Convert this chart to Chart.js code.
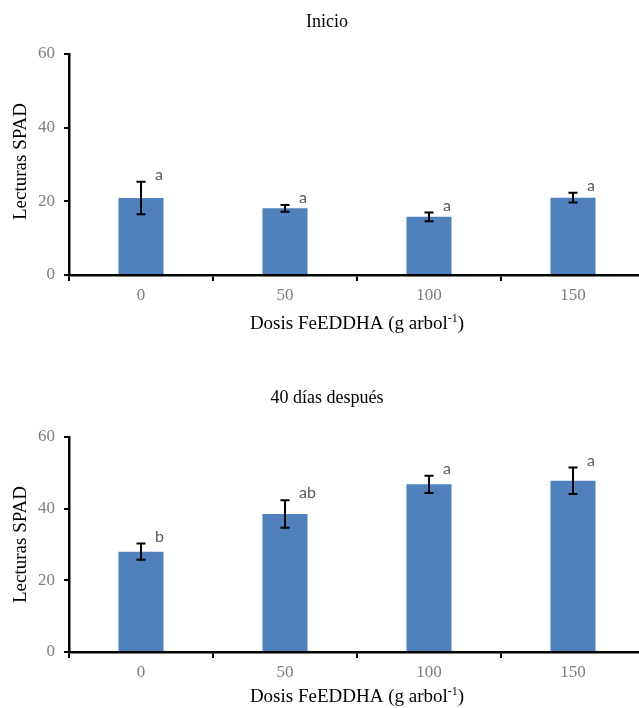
<!DOCTYPE html>
<html>
<head>
<meta charset="utf-8">
<script src="https://cdn.jsdelivr.net/npm/chart.js@4/dist/chart.umd.min.js"></script>
<style>
  html, body { margin: 0; padding: 0; background: #fff; overflow: hidden; }
  #wrap { position: relative; width: 639px; height: 708px; overflow: hidden; }
  canvas { position: absolute; left: 0; }
</style>
</head>
<body>
<div id="wrap">
  <canvas id="c1" width="645" height="354" style="top:0"></canvas>
  <canvas id="c2" width="645" height="354" style="top:354px"></canvas>
</div>
<script>
const categories = ['0', '50', '100', '150'];
const yTicks = [0, 20, 40, 60];

const inicioTitle = 'Inicio';
const inicioValues = [20.9, 18.1, 15.8, 21.0];
const inicioErrors = [4.4, 0.9, 1.2, 1.3];
const inicioLetters = ['a', 'a', 'a', 'a'];

const despuesTitle = '40 días después';
const despuesValues = [28.0, 38.5, 46.8, 47.8];
const despuesErrors = [2.25, 3.85, 2.4, 3.7];
const despuesLetters = ['b', 'ab', 'a', 'a'];

const yTitle = 'Lecturas SPAD';
const xTitleMain = 'Dosis FeEDDHA (g arbol';
const xTitleSup = '-1';
const xTitleEnd = ')';

const SERIF = '"Liberation Serif", "Times New Roman", "DejaVu Serif", serif';
const SANS = 'Lato, "Liberation Sans", Arial, sans-serif';
const BAR = '#4F81BD';

function makeChart(id, title, values, errors, letters, pad, titleY, xTitleY, yTitleShift) {
  const decor = {
    id: 'decor' + id,
    afterDatasetsDraw(chart) {
      const ctx = chart.ctx;
      const meta = chart.getDatasetMeta(0);
      const ys = chart.scales.y;
      ctx.save();
      ctx.strokeStyle = '#000';
      ctx.lineWidth = 2;
      meta.data.forEach((bar, i) => {
        const x = Math.round(bar.x);
        const yT = ys.getPixelForValue(values[i] + errors[i]);
        const yB = ys.getPixelForValue(values[i] - errors[i]);
        ctx.beginPath();
        ctx.moveTo(x, yT); ctx.lineTo(x, yB);
        ctx.moveTo(x - 4.5, yT); ctx.lineTo(x + 4.5, yT);
        ctx.moveTo(x - 4.5, yB); ctx.lineTo(x + 4.5, yB);
        ctx.stroke();
        ctx.fillStyle = '#595959';
        ctx.font = '16px ' + SANS;
        ctx.textAlign = 'left';
        ctx.textBaseline = 'middle';
        ctx.fillText(letters[i], x + 14, yT - 7);
      });
      ctx.restore();
    },
    afterDraw(chart) {
      const ctx = chart.ctx;
      const a = chart.chartArea;
      ctx.save();
      ctx.fillStyle = '#000';
      ctx.font = '18px ' + SERIF;
      ctx.textAlign = 'center';
      ctx.textBaseline = 'middle';
      ctx.fillText(title, 327, titleY);
      ctx.save();
      ctx.translate(21, (a.top + a.bottom) / 2 + yTitleShift);
      ctx.rotate(-Math.PI / 2);
      ctx.font = '19px ' + SERIF;
      ctx.textAlign = 'center';
      ctx.textBaseline = 'middle';
      ctx.fillText(yTitle, 0, 0);
      ctx.restore();
      ctx.textAlign = 'left';
      ctx.textBaseline = 'middle';
      ctx.font = '19px ' + SERIF;
      const w1 = ctx.measureText(xTitleMain).width;
      const w3 = ctx.measureText(xTitleEnd).width;
      ctx.font = '12px ' + SERIF;
      const w2 = ctx.measureText(xTitleSup).width;
      const cx = (a.left + a.right) / 2;
      const x0 = cx - (w1 + w2 + w3) / 2;
      ctx.font = '19px ' + SERIF;
      ctx.fillText(xTitleMain, x0, xTitleY);
      ctx.font = '12px ' + SERIF;
      ctx.fillText(xTitleSup, x0 + w1, xTitleY - 5);
      ctx.font = '19px ' + SERIF;
      ctx.fillText(xTitleEnd, x0 + w1 + w2, xTitleY);
      ctx.restore();
    }
  };

  return new Chart(document.getElementById(id), {
    type: 'bar',
    data: {
      labels: categories,
      datasets: [{
        data: values,
        backgroundColor: BAR,
        borderWidth: 0,
        barPercentage: 0.313,
        categoryPercentage: 1.0
      }]
    },
    options: {
      responsive: false,
      animation: false,
      devicePixelRatio: 1,
      layout: { padding: pad },
      plugins: { legend: { display: false }, title: { display: false }, tooltip: { enabled: false } },
      scales: {
        x: {
          offset: true,
          grid: { offset: true, drawOnChartArea: false, drawTicks: true, tickLength: 6, color: '#000', lineWidth: 2 },
          border: { display: true, color: '#000', width: 2.5 },
          ticks: { color: '#7F7F7F', font: { family: SERIF, size: 17 }, padding: 4 },
          afterFit: s => { s.height = 40; }
        },
        y: {
          min: 0, max: 60,
          afterBuildTicks: s => { s.ticks = yTicks.map(v => ({ value: v })); },
          grid: { drawOnChartArea: false, drawTicks: true, tickLength: 5, color: '#000', lineWidth: 2 },
          border: { display: true, color: '#000', width: 2.5 },
          ticks: { color: '#7F7F7F', font: { family: SERIF, size: 17 }, padding: 9 },
          afterFit: s => { s.width = 69; }
        }
      }
    },
    plugins: [decor]
  });
}

makeChart('c1', inicioTitle, inicioValues, inicioErrors, inicioLetters,
  { top: 54, bottom: 39, left: 0, right: 0 }, 22, 324, -3);
makeChart('c2', despuesTitle, despuesValues, despuesErrors, despuesLetters,
  { top: 83, bottom: 16, left: 0, right: 0 }, 44, 343, 0);
</script>
</body>
</html>
